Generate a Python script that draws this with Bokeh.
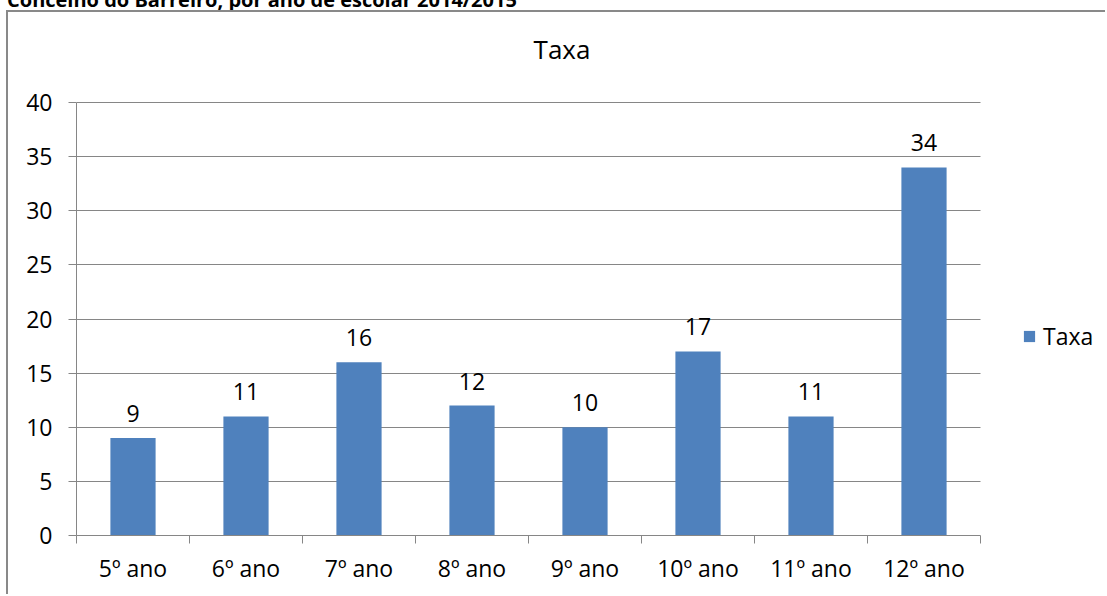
from bokeh.plotting import figure
from bokeh.layouts import column
from bokeh.models import (Range1d, FixedTicker, ColumnDataSource, LabelSet, Label,
                          Legend, LegendItem, Div)
from bokeh.core.properties import value
from bokeh.embed import file_html
from bokeh.resources import INLINE

# ---- data ----
categories = ["5º ano", "6º ano", "7º ano", "8º ano", "9º ano", "10º ano", "11º ano", "12º ano"]
taxa = [9, 11, 16, 12, 10, 17, 11, 34]
y_ticks = [0, 5, 10, 15, 20, 25, 30, 35, 40]
series_name = "Taxa"
chart_title = "Taxa"
page_heading = "Concelho do Barreiro, por ano de escolar 2014/2015"

FONT = "Open Sans"
GRAY = "#868686"
BAR = "#4F81BD"

# ---- layout (pixels) ----
W, H = 1099, 584
LEFT, BOTTOM = 68, 61
PLOT_W, PLOT_H = 904, 433          # the value area inside the frame
FRAME_W, FRAME_H = W - LEFT, H - BOTTOM

n = len(categories)
ymax = y_ticks[-1]
x_end = n * FRAME_W / PLOT_W
y_end = ymax * FRAME_H / PLOT_H

xc = [i + 0.5 for i in range(n)]
src = ColumnDataSource(dict(x=xc, taxa=taxa, label=[str(v) for v in taxa]))

p = figure(width=W, height=H, x_range=Range1d(0, x_end), y_range=Range1d(0, y_end),
           output_backend="svg", toolbar_location=None, min_border=0,
           min_border_left=LEFT, min_border_right=0, min_border_top=0, min_border_bottom=BOTTOM)
p.outline_line_color = None
p.background_fill_color = "white"
p.border_fill_color = "white"
p.styles = {"margin-left": "6px",
            "border-left": "2px solid #898989", "border-top": "2px solid #898989"}

# horizontal grid lines restricted to the value area
p.xgrid.visible = False
p.ygrid.ticker = FixedTicker(ticks=y_ticks)
p.ygrid.grid_line_color = GRAY
try:
    p.ygrid[0].cross_bounds = (0, n)
except Exception:
    p.ygrid.visible = False
    p.segment(x0=[0] * len(y_ticks), x1=[n] * len(y_ticks), y0=y_ticks, y1=y_ticks,
              line_color=GRAY, line_width=1)

r = p.vbar(x="x", top="taxa", width=0.4, source=src, fill_color=BAR, line_color=None)

# x axis
xa = p.xaxis[0]
xa.bounds = (0, n)
xa.ticker = FixedTicker(ticks=xc, minor_ticks=list(range(n + 1)))
xa.major_label_overrides = {xv: c for xv, c in zip(xc, categories)}
xa.major_tick_line_color = None
xa.major_tick_out = 0
xa.major_tick_in = 0
xa.minor_tick_line_color = GRAY
xa.minor_tick_out = 8
xa.minor_tick_in = 0
xa.axis_line_color = GRAY
xa.major_label_text_font = FONT
xa.major_label_text_font_size = "23px"
xa.major_label_text_color = "black"
xa.major_label_standoff = 8

# y axis
ya = p.yaxis[0]
ya.bounds = (0, ymax)
ya.ticker = FixedTicker(ticks=y_ticks, minor_ticks=[])
ya.major_tick_line_color = GRAY
ya.major_tick_out = 8
ya.major_tick_in = 0
ya.minor_tick_line_color = None
ya.axis_line_color = GRAY
ya.major_label_text_font = FONT
ya.major_label_text_font_size = "23px"
ya.major_label_text_color = "black"
ya.major_label_standoff = 16

labels = LabelSet(x="x", y="taxa", text="label", source=src, y_offset=16,
                  text_align="center", text_baseline="alphabetic",
                  text_font=value(FONT), text_font_size=value("23px"), text_color="black")
p.add_layout(labels)

title = Label(x=485.5, y=FRAME_H - 36, x_units="screen", y_units="screen", text=chart_title,
              text_align="center", text_baseline="middle",
              text_font=FONT, text_font_size="26px", text_color="black")
p.add_layout(title)

legend = Legend(items=[LegendItem(label=series_name, renderers=[r])], location=(946, 183),
                border_line_color=None, background_fill_alpha=0, padding=0, margin=0,
                glyph_width=14, glyph_height=14, label_standoff=7,
                label_text_font=FONT, label_text_font_size="23px", label_text_color="black")
p.add_layout(legend)

# heading of the page, mostly scrolled out above the chart
heading = Div(text=('<div style="position:relative; top:-10px; left:7px; white-space:nowrap; '
                    'font-family:\'Open Sans\'; font-weight:bold; font-size:20px; '
                    'line-height:20px; color:black;">' + page_heading + '</div>'),
              width=W, height=10, margin=0, styles={"overflow": "visible"})

layout = column(heading, p, spacing=0)

open("out.html", "w").write(file_html(layout, INLINE))
